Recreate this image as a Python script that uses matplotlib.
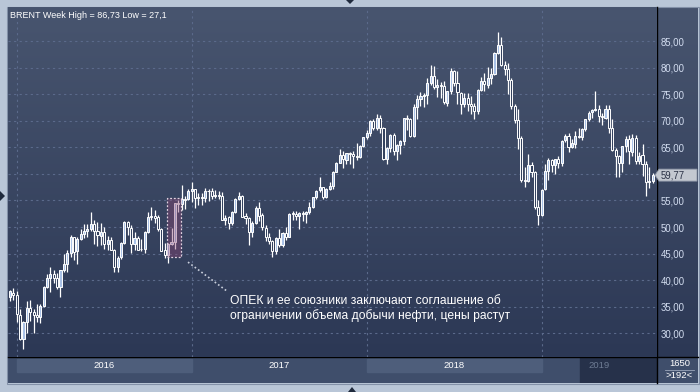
import numpy as np
import pandas as pd
import matplotlib.pyplot as plt
import matplotlib.transforms as mtrans
from matplotlib.patches import Rectangle, Polygon
from matplotlib.lines import Line2D

# weekly Brent candles, week of 2015-12-21 .. week of 2019-08-19
opens = [36.9, 37.6,
    37.3, 33.5, 28.9, 32.2, 34.7, 34.1, 33.4, 33.0, 35.1, 38.7, 40.4, 41.2, 40.4, 38.7, 41.9, 43.1, 45.1, 48.1,
    45.4, 47.8, 48.7, 49.3, 49.6, 50.5, 49.2, 48.4, 49.0, 46.8, 47.6, 45.7, 42.5, 44.3, 47.0, 50.9, 49.9, 46.8,
    48.0, 45.8, 45.9, 49.1, 51.9, 52.0, 51.8, 49.7, 45.6, 44.8, 46.9, 47.2, 54.5, 54.3, 55.2, 55.2,
    56.8, 57.1, 55.5, 55.5, 55.5, 56.8, 56.7, 55.8, 56.0, 55.9, 51.4, 51.8, 50.8, 52.8, 55.2, 55.9, 52.0, 51.7,
    49.1, 50.8, 53.6, 52.2, 49.9, 48.2, 47.4, 45.5, 47.9, 46.7, 48.9, 48.1, 52.5, 52.4, 52.1, 52.7, 52.4, 52.8,
    53.8, 55.6, 56.9, 57.5, 55.6, 57.2, 57.8, 60.4, 62.1, 63.5, 62.7, 63.9, 63.7, 63.4, 63.2, 65.3,
    66.9, 67.6, 69.9, 68.6, 70.5, 68.6, 62.8, 64.8, 67.3, 64.4, 65.5, 66.2, 70.5, 70.3, 67.1, 72.6, 74.1, 74.6,
    74.9, 77.1, 78.5, 76.4, 76.8, 76.5, 73.4, 75.6, 79.4, 77.1, 75.3, 73.1, 74.3, 73.2, 72.8, 71.8, 75.8, 77.4,
    76.8, 78.1, 78.8, 82.7, 84.2, 80.4, 79.8, 77.6, 72.8, 70.2, 66.8, 58.8, 58.7, 61.7, 60.3, 53.8,
    52.2, 57.1, 60.5, 62.7, 61.6, 62.8, 62.1, 66.3, 67.1, 65.1, 65.7, 67.2, 67.0, 68.4, 70.3, 71.6, 72.0, 72.2,
    70.9, 70.6, 72.2, 68.7, 64.5, 63.3, 62.0, 65.2, 66.6, 64.2, 66.7, 62.5, 63.5, 61.9, 58.5, 58.6]
highs = [38.1, 38.6,
    37.9, 34.5, 32.4, 36.0, 36.3, 34.5, 35.6, 35.6, 38.9, 41.2, 42.5, 42.0, 41.3, 42.0, 45.0, 45.6, 48.5, 48.2,
    48.1, 49.6, 50.5, 50.6, 52.9, 51.4, 51.0, 50.8, 50.1, 48.3, 48.1, 45.8, 44.6, 47.1, 51.2, 51.2, 50.3, 49.0,
    48.3, 47.8, 49.2, 52.9, 53.7, 53.2, 52.2, 49.9, 47.0, 47.0, 49.9, 54.5, 55.0, 57.9, 55.8, 57.1,
    58.4, 57.2, 56.4, 56.4, 57.3, 57.2, 57.3, 57.0, 56.8, 56.5, 52.3, 52.0, 53.1, 55.4, 56.6, 56.0, 52.6, 51.9,
    51.1, 54.0, 54.7, 52.6, 50.4, 48.8, 47.5, 48.1, 49.7, 49.0, 50.0, 52.7, 53.0, 53.1, 52.9, 53.0, 53.0, 54.7,
    55.7, 57.0, 59.5, 57.6, 57.3, 58.4, 60.5, 62.2, 64.7, 64.3, 64.0, 64.1, 64.3, 65.8, 65.5, 67.0,
    68.3, 70.1, 70.4, 71.3, 71.1, 68.9, 65.0, 67.5, 67.7, 65.7, 66.4, 70.6, 71.1, 70.5, 73.1, 74.8, 75.5, 75.3,
    78.0, 80.5, 80.3, 77.9, 77.3, 77.4, 75.6, 79.9, 79.5, 79.4, 75.4, 75.3, 75.3, 74.6, 73.3, 75.9, 78.3, 79.0,
    80.1, 80.0, 83.0, 86.73, 85.7, 81.3, 80.8, 78.0, 73.1, 72.2, 67.2, 61.3, 63.7, 62.3, 60.5, 55.0,
    57.1, 61.9, 62.9, 62.8, 62.8, 63.4, 66.4, 67.5, 67.7, 66.5, 68.0, 68.7, 68.7, 70.4, 71.9, 72.3, 75.6, 73.0,
    71.5, 73.0, 73.0, 70.3, 64.8, 63.5, 65.3, 67.2, 67.3, 67.5, 67.3, 64.2, 65.7, 62.4, 61.3, 60.2]
lows = [36.1, 36.3,
    32.2, 28.8, 27.1, 30.0, 32.3, 30.0, 32.1, 31.9, 35.0, 38.5, 37.8, 39.5, 38.4, 36.9, 41.6, 41.5, 44.3, 43.8,
    43.0, 47.6, 47.9, 48.1, 49.3, 46.8, 46.4, 46.7, 45.9, 45.7, 45.6, 41.6, 41.5, 43.9, 46.9, 48.5, 45.1, 45.7,
    45.6, 45.4, 45.1, 48.9, 51.4, 50.7, 49.3, 45.5, 44.2, 43.3, 46.6, 45.9, 52.9, 53.3, 53.4, 55.0,
    54.8, 53.6, 54.2, 54.2, 54.8, 54.9, 55.2, 55.5, 55.2, 51.3, 50.3, 49.7, 50.4, 52.6, 55.0, 51.9, 50.6, 46.6,
    48.2, 50.5, 51.2, 49.5, 47.3, 46.8, 44.4, 45.0, 46.3, 46.2, 47.6, 48.1, 51.3, 51.3, 49.7, 51.2, 50.7, 52.4,
    53.5, 55.2, 56.6, 55.2, 55.5, 56.9, 57.1, 60.3, 62.0, 61.1, 61.9, 61.8, 61.2, 62.6, 62.9, 65.0,
    66.6, 67.1, 68.3, 68.3, 67.7, 62.6, 61.8, 64.2, 63.6, 62.7, 63.8, 65.4, 68.2, 66.9, 67.0, 70.4, 72.8, 72.6,
    73.1, 76.7, 76.0, 74.5, 74.2, 73.1, 72.8, 75.1, 76.5, 73.2, 71.2, 72.5, 71.9, 71.2, 70.3, 71.3, 75.6, 75.6,
    76.1, 77.0, 78.6, 82.5, 80.3, 78.6, 75.1, 72.2, 69.5, 64.6, 58.4, 57.5, 58.4, 59.4, 53.4, 50.47,
    52.1, 56.9, 58.8, 60.4, 59.9, 61.1, 61.5, 66.0, 64.1, 64.9, 64.9, 66.8, 66.3, 68.0, 69.9, 70.5, 71.8, 69.8,
    69.2, 70.3, 67.7, 64.4, 59.5, 59.5, 60.4, 64.2, 61.8, 63.4, 61.8, 61.8, 59.6, 55.9, 57.4, 58.3]
closes = [37.89, 37.28,
    33.55, 28.94, 32.18, 34.74, 34.06, 33.36, 33.01, 35.10, 38.72, 40.39, 41.20, 40.44, 38.67, 41.94, 43.10, 45.11, 48.13, 45.37,
    47.83, 48.72, 49.32, 49.64, 50.54, 49.17, 48.41, 48.99, 46.76, 47.61, 45.69, 42.46, 44.27, 46.97, 50.88, 49.92, 46.83, 48.01,
    45.77, 45.89, 49.06, 51.93, 51.95, 51.78, 49.71, 45.58, 44.75, 46.86, 47.24, 54.46, 54.33, 55.21, 55.16, 56.82,
    57.10, 55.45, 55.49, 55.52, 56.81, 56.70, 55.81, 56.00, 55.90, 51.37, 51.76, 50.80, 52.83, 55.24, 55.89, 51.96, 51.73, 49.10,
    50.84, 53.61, 52.15, 49.95, 48.15, 47.37, 45.54, 47.92, 46.71, 48.91, 48.06, 52.52, 52.42, 52.10, 52.72, 52.41, 52.75, 53.78,
    55.62, 56.86, 57.54, 55.62, 57.17, 57.75, 60.44, 62.07, 63.52, 62.72, 63.86, 63.73, 63.40, 63.23, 65.25, 66.87,
    67.62, 69.87, 68.61, 70.52, 68.58, 62.79, 64.84, 67.31, 64.37, 65.49, 66.21, 70.45, 70.27, 67.11, 72.58, 74.06, 74.64, 74.87,
    77.12, 78.51, 76.44, 76.79, 76.46, 73.44, 75.55, 79.44, 77.11, 75.33, 73.07, 74.29, 73.21, 72.81, 71.83, 75.82, 77.42, 76.83,
    78.09, 78.80, 82.72, 84.16, 80.43, 79.78, 77.62, 72.83, 70.18, 66.76, 58.80, 58.71, 61.67, 60.28, 53.82, 52.20,
    57.06, 60.48, 62.70, 61.64, 62.75, 62.10, 66.25, 67.12, 65.07, 65.74, 67.16, 67.03, 68.39, 70.34, 71.55, 71.97, 72.15, 70.85,
    70.62, 72.21, 68.69, 64.49, 63.29, 62.01, 65.20, 66.55, 64.23, 66.72, 62.47, 63.46, 61.89, 58.53, 58.64, 59.77]

price_ticks = [30, 35, 40, 45, 50, 55, 60, 65, 70, 75, 80, 85]
title = "BRENT Week High = 86,73 Low = 27,1"
note = "ОПЕК и ее союзники заключают соглашение об\nограничении объема добычи нефти, цены растут"
opec_weeks = (46.7, 50.8)      # highlighted candles (index range)
opec_prices = (44.4, 55.5)

W, H = 700, 392
weeks = pd.date_range("2015-12-21", periods=len(closes), freq="W-MON")
iso_year = np.array(weeks.isocalendar().year)
year_start = [i for i in range(1, len(weeks)) if iso_year[i] != iso_year[i - 1]]
years = [str(iso_year[i]) for i in year_start]

fig = plt.figure(figsize=(7, 3.92), dpi=100)
fig.patch.set_facecolor("#b9c6d7")


def px(l, t, r, b):
    return [l / W, 1 - b / H, (r - l) / W, (b - t) / H]


def gradient(a, top, bottom):
    c1 = np.array(plt.matplotlib.colors.to_rgb(top))
    c2 = np.array(plt.matplotlib.colors.to_rgb(bottom))
    t = np.linspace(0, 1, 256)[:, None]
    img = (c1 * (1 - t) + c2 * t)[:, None, :]
    a.imshow(img, aspect="auto", extent=[0, 1, 0, 1], transform=a.transAxes, zorder=0)


xl = (-0.6, 192.3)
yl = (25.55, 91.4)

# right price panel
pan = fig.add_axes(px(657, 7, 698, 357))
gradient(pan, "#48556f", "#2c3855")
pan.set_axis_off()

ax = fig.add_axes(px(8, 7, 657, 357))
ax.set_zorder(2)
gradient(ax, "#48556f", "#2c3855")
ax.set_xlim(*xl)
ax.set_ylim(*yl)

for v in price_ticks:
    ax.axhline(v, color="#5b6a8b", lw=0.8, ls=(0, (2, 3)), zorder=1)
for i in year_start:
    ax.axvline(i, color="#5b6a8b", lw=0.8, ls=(0, (2, 3)), zorder=1)

o = np.array(opens); c = np.array(closes)
idx = np.arange(len(c))
up = c >= o
ax.vlines(idx, lows, highs, color="white", lw=0.9, zorder=3)
body = np.maximum(np.abs(c - o), 0.15)
ax.bar(idx, body, bottom=np.minimum(o, c), width=0.62,
       color=np.where(up, "#a9c1e6", "#34425f"), edgecolor="white", lw=0.7, zorder=4)

ax.add_patch(Rectangle((opec_weeks[0], opec_prices[0]), opec_weeks[1] - opec_weeks[0],
                       opec_prices[1] - opec_prices[0], facecolor=(0.55, 0.27, 0.45, 0.4),
                       edgecolor="#e0d2e0", lw=0.9, ls=(0, (1.5, 1.5)), zorder=5))
ax.add_line(Line2D([52.9, 64.8], [43.4, 37.8], color="#c9cfdc", lw=1.2, ls=(0, (1, 1.5)), zorder=5))
ax.text(65.4, 34.6, note, color="white", fontsize=8.7, family="Liberation Sans",
        va="center", ha="left", linespacing=1.2, zorder=6)

ax.text(0.003, 0.975, title, transform=ax.transAxes, color="white", fontsize=6.5,
        family="Liberation Sans", va="center", ha="left", zorder=6)

ax.set_yticks(price_ticks)
ax.set_yticklabels([f"{v:.2f}".replace(".", ",") for v in price_ticks])
ax.yaxis.tick_right()
ax.tick_params(axis="y", length=0, pad=2.5, labelsize=6.9, labelcolor="#d3ddf0")
for lab in ax.get_yticklabels():
    lab.set_family("Liberation Sans")
ax.set_xticks([])
for s in ax.spines.values():
    s.set_visible(False)

# last price tag
tr = mtrans.blended_transform_factory(fig.transFigure, ax.transData)
hh = 6 / 5.315
last = closes[-1]
tag = Polygon([(655 / W, last), (659 / W, last + hh), (697 / W, last + hh),
               (697 / W, last - hh), (659 / W, last - hh)], closed=True,
              facecolor="#c3c8d0", edgecolor="#8d96a6", lw=0.6, transform=tr, zorder=10)
fig.add_artist(tag)
fig.text(661 / W, last, f"{last:.2f}".replace(".", ","), transform=tr, fontsize=6.9,
         family="Liberation Sans", color="#2a3145", va="center", ha="left", zorder=11)

# time axis
tax = fig.add_axes(px(8, 357, 657, 383))
tax.set_facecolor("#3f4e6b")
tax.set_xlim(*xl)
tax.set_ylim(0, 1)
bounds = year_start + [xl[1]]
for k, yr in enumerate(years):
    a, b = bounds[k], bounds[k + 1]
    if yr == years[-1]:
        tax.axvspan(169.4, b, 0, 1, color="#26314a")
        tax.text((a + b) / 2, 0.66, yr, color="#6d7b93", fontsize=6.8,
                 family="Liberation Sans", ha="center", va="center")
        continue
    if k % 2 == 0:
        tax.axvspan(a, b, 0.42, 0.92, color="#4e5e7b")
    tax.text((a + b) / 2, 0.66, yr, color="white", fontsize=6.8,
             family="Liberation Sans", ha="center", va="center")
tax.set_xticks([]); tax.set_yticks([])
for s in tax.spines.values():
    s.set_visible(False)

cax = fig.add_axes(px(657, 357, 698, 383))
cax.set_facecolor("#3f4e6b")
cax.plot([0.2, 0.9], [0.5, 0.5], color="#9aa6ba", lw=0.6)
cax.set_xlim(0, 1)
cax.set_ylim(0, 1)
cax.set_xticks([]); cax.set_yticks([])
for s in cax.spines.values():
    s.set_visible(False)
cax.text(0.55, 0.76, "1650", color="white", fontsize=6.8, family="Liberation Sans",
         ha="center", va="center")
cax.text(0.55, 0.27, ">192<", color="white", fontsize=6.8, family="Liberation Sans",
         ha="center", va="center")

# separators and frame
fig.add_artist(Line2D([657 / W, 657 / W], [1 - 383 / H, 1 - 7 / H], color="black", lw=1.0))
fig.add_artist(Line2D([8 / W, 698 / W], [1 - 357 / H, 1 - 357 / H], color="black", lw=1.0))
fig.add_artist(Rectangle((7 / W, 1 - 384 / H), 692 / W, 377 / H, fill=False,
                         edgecolor="#8391a8", lw=0.8))
for pts in ([(346, 0), (354, 0), (350, 4)], [(348, 392), (356, 392), (352, 387)],
            [(0, 191), (0, 201), (5, 196)]):
    fig.add_artist(Polygon([(x / W, 1 - y / H) for x, y in pts], closed=True,
                           facecolor="#1f2a3c", edgecolor="none"))

fig.savefig("out.png", dpi=100, facecolor=fig.get_facecolor())
